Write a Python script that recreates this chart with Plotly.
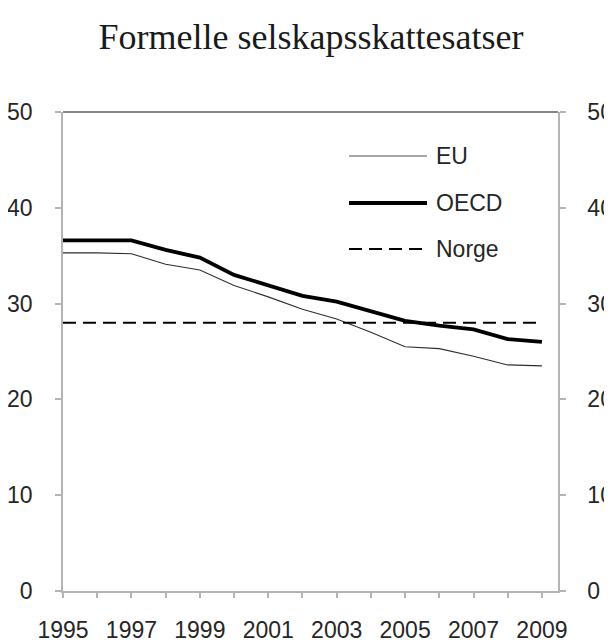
import plotly.graph_objects as go

years = list(range(1995, 2010))
eu = [35.3, 35.3, 35.2, 34.1, 33.5, 31.9, 30.7, 29.4, 28.4, 27.0, 25.5, 25.3, 24.5, 23.6, 23.5]
oecd = [36.6, 36.6, 36.6, 35.6, 34.8, 33.0, 31.9, 30.8, 30.2, 29.2, 28.2, 27.7, 27.3, 26.3, 26.0]
norge = [28.0] * 15
y_ticks = [0, 10, 20, 30, 40, 50]

TICKFONT = dict(family="Liberation Sans, Arial", size=23, color="#262626")
AXIS_GRAY = "#b4b4b4"
EU_LINE = dict(color="#2e2e2e", width=1.1)
OECD_LINE = dict(color="#000000", width=3.8)
NORGE_LINE = dict(color="#000000", width=2, dash="13px,7px")

fig = go.Figure()
fig.add_trace(go.Scatter(x=years, y=eu, mode="lines", name="EU", line=EU_LINE, showlegend=False))
fig.add_trace(go.Scatter(x=years, y=oecd, mode="lines", name="OECD", line=OECD_LINE, showlegend=False))
fig.add_trace(go.Scatter(x=years, y=norge, mode="lines", name="Norge", line=NORGE_LINE, showlegend=False))
# right axis companion (invisible)
fig.add_trace(go.Scatter(x=years, y=norge, mode="lines", yaxis="y2", hoverinfo="skip",
                         line=dict(color="rgba(0,0,0,0)", width=0), showlegend=False))

# the page places the figure 8px in from the top-left corner (body margin)
OFF = 8
W, H = 612 - OFF, 642 - OFF
L, R, T, B = 63 - OFF, 54, 112 - OFF, 51
pw, ph = W - L - R, H - T - B

# legend drawn manually
legend_items = [("EU", dict(color="#8a8a8a", width=1.3), 156),
                ("OECD", OECD_LINE, 203),
                ("Norge", NORGE_LINE, 249)]
x0, x1 = 349 - OFF, 427 - OFF
for name, ln, yp in legend_items:
    yy = (H - B - (yp - OFF)) / ph
    fig.add_shape(type="line", xref="paper", yref="paper",
                  x0=(x0 - L) / pw, x1=(x1 - L) / pw, y0=yy, y1=yy, line=ln)
    fig.add_annotation(xref="paper", yref="paper", x=(x1 + 7 - L) / pw, y=yy,
                       text=name, showarrow=False, xanchor="left", yanchor="middle",
                       font=TICKFONT)

# top frame line
fig.add_shape(type="line", xref="paper", yref="paper", x0=0, x1=1, y0=1, y1=1,
              line=dict(color="#606060", width=1.5))

axis_common = dict(showgrid=False, zeroline=False, showline=True, linecolor=AXIS_GRAY,
                   linewidth=1.5, ticks="outside", tickcolor=AXIS_GRAY, tickwidth=1.5,
                   tickfont=TICKFONT, automargin=False)

fig.update_layout(
    width=W, height=H,
    margin=dict(l=L, r=R, t=T, b=B),
    paper_bgcolor="white", plot_bgcolor="white",
    title=dict(text="Formelle selskapsskattesatser", x=(311 - OFF) / W, xanchor="center",
               y=1 - (36 - OFF) / H, yanchor="middle",
               font=dict(family="Liberation Serif, Times New Roman", size=36, color="#1a1a1a")),
    xaxis=dict(range=[1995, 2009.47], tickvals=years,
               ticktext=[str(y) if y % 2 == 1 else "" for y in years],
               ticklen=5, ticklabelstandoff=13, **axis_common),
    yaxis=dict(range=[0, 50], tickvals=y_ticks, ticklen=6, ticklabelstandoff=18, **axis_common),
    yaxis2=dict(range=[0, 50], tickvals=y_ticks, overlaying="y", side="right",
                ticklen=6, ticklabelstandoff=17, **axis_common),
)

fig.write_html("out.html")
